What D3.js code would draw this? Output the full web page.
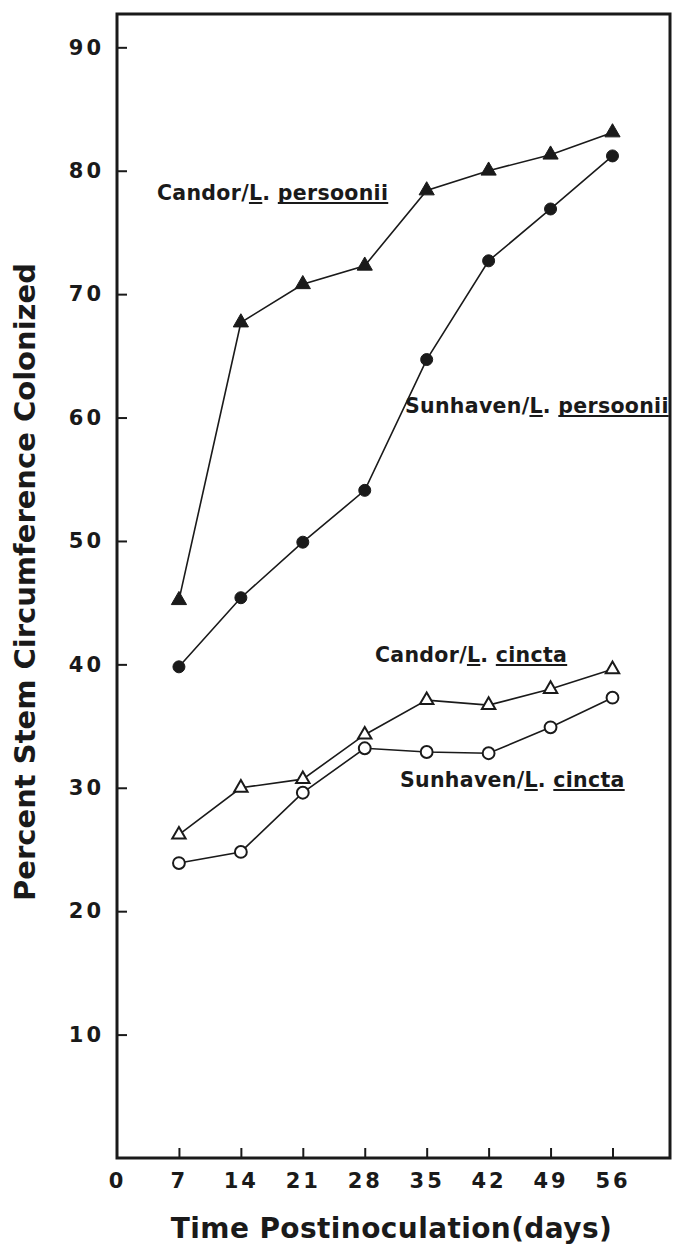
<!DOCTYPE html>
<html>
<head>
<meta charset="utf-8">
<script src="https://cdn.jsdelivr.net/npm/d3@7"></script>
<style>
  html, body { margin: 0; padding: 0; background: #fff; }
  svg { display: block; }
  text { font-family: "DejaVu Sans", sans-serif; font-weight: bold; fill: #1a1a1a; }
</style>
</head>
<body>
<svg id="chart" width="678" height="1248"></svg>
<script>
// data
const days = [7, 14, 21, 28, 35, 42, 49, 56];
const candorPersoonii = [45.2, 67.7, 70.8, 72.3, 78.4, 80.0, 81.3, 83.1];
const sunhavenPersoonii = [39.8, 45.4, 49.9, 54.1, 64.7, 72.7, 76.9, 81.2];
const candorCincta = [26.2, 30.0, 30.7, 34.3, 37.1, 36.7, 38.0, 39.6];
const sunhavenCincta = [23.9, 24.8, 29.6, 33.2, 32.9, 32.8, 34.9, 37.3];

const xTicks = [0, 7, 14, 21, 28, 35, 42, 49, 56];
const yTicks = [10, 20, 30, 40, 50, 60, 70, 80, 90];

const series = [
    { name: "Candor", species: "persoonii", values: candorPersoonii, shape: d3.symbolTriangle, filled: true, label: [157, 200] },
    { name: "Sunhaven", species: "persoonii", values: sunhavenPersoonii, shape: d3.symbolCircle, filled: true, label: [405, 413] },
    { name: "Candor", species: "cincta", values: candorCincta, shape: d3.symbolTriangle, filled: false, label: [375, 662] },
    { name: "Sunhaven", species: "cincta", values: sunhavenCincta, shape: d3.symbolCircle, filled: false, label: [400, 787] }
];

const svg = d3.select("#chart");
const ink = "#1a1a1a";

const plotL = 117, plotR = 670, plotT = 14, plotB = 1158;
const x = d3.scaleLinear().domain([0, 62.5]).range([plotL, plotR]);
const y = d3.scaleLinear().domain([0, 92.7]).range([plotB, plotT]);

// axes (ticks point inward)
const yAxis = svg.append("g")
    .attr("transform", `translate(${plotL},0)`)
    .call(d3.axisLeft(y).tickValues(yTicks).tickSize(-10).tickPadding(13));
const xAxis = svg.append("g")
    .attr("transform", `translate(0,${plotB})`)
    .call(d3.axisBottom(x).tickValues(xTicks).tickSize(-10).tickPadding(15));

[yAxis, xAxis].forEach(g => {
    g.select(".domain").remove();
    g.selectAll(".tick line").attr("stroke", ink).attr("stroke-width", 2);
    g.selectAll(".tick text")
        .style("font-family", "'DejaVu Sans', sans-serif")
        .style("font-weight", "bold")
        .style("font-size", "21px")
        .style("letter-spacing", "3px")
        .attr("fill", ink);
});
xAxis.selectAll(".tick").filter(d => d === 0).select("line").remove();

// frame
svg.append("rect")
    .attr("x", plotL).attr("y", plotT)
    .attr("width", plotR - plotL).attr("height", plotB - plotT)
    .attr("fill", "none").attr("stroke", ink).attr("stroke-width", 3);

// axis titles
svg.append("text")
    .attr("x", (168 + 615) / 2).attr("y", 1238)
    .attr("text-anchor", "middle")
    .style("font-size", "28px")
    .style("letter-spacing", "0.4px")
    .text("Time Postinoculation(days)");

svg.append("text")
    .attr("transform", "translate(35,582) rotate(-90)")
    .attr("text-anchor", "middle")
    .style("font-size", "29px")
    .text("Percent Stem Circumference Colonized");

// lines + markers
const line = d3.line().x(d => x(d[0])).y(d => y(d[1]));

series.forEach(s => {
    const pts = days.map((d, i) => [d, s.values[i]]);
    svg.append("path")
        .datum(pts)
        .attr("d", line)
        .attr("fill", "none")
        .attr("stroke", ink)
        .attr("stroke-width", 1.6);

    const isTri = s.shape === d3.symbolTriangle;
    const size = isTri ? (s.filled ? 100 : 78) : (s.filled ? 113 : 110);
    svg.append("g").selectAll("path")
        .data(pts)
        .join("path")
        .attr("transform", d => `translate(${x(d[0])},${y(d[1])})`)
        .attr("d", d3.symbol().type(s.shape).size(size))
        .attr("fill", s.filled ? ink : "#fff")
        .attr("stroke", ink)
        .attr("stroke-width", s.filled ? 1 : 2);
});

// series labels, with underlined genus initial and species
series.forEach(s => {
    const txt = `${s.name}/L. ${s.species}`;
    const t = svg.append("text")
        .attr("x", s.label[0]).attr("y", s.label[1])
        .style("font-size", "20.5px")
        .style("letter-spacing", "0.3px")
        .text(txt);
    const node = t.node();
    const underline = (from, to) => {
        const x0 = node.getStartPositionOfChar(from).x;
        const x1 = node.getEndPositionOfChar(to).x;
        svg.append("line")
            .attr("x1", x0).attr("x2", Math.min(x1, plotR))
            .attr("y1", s.label[1] + 3).attr("y2", s.label[1] + 3)
            .attr("stroke", ink).attr("stroke-width", 2);
    };
    const lPos = s.name.length + 1;
    underline(lPos, lPos);
    underline(lPos + 3, txt.length - 1);
});
</script>
</body>
</html>
